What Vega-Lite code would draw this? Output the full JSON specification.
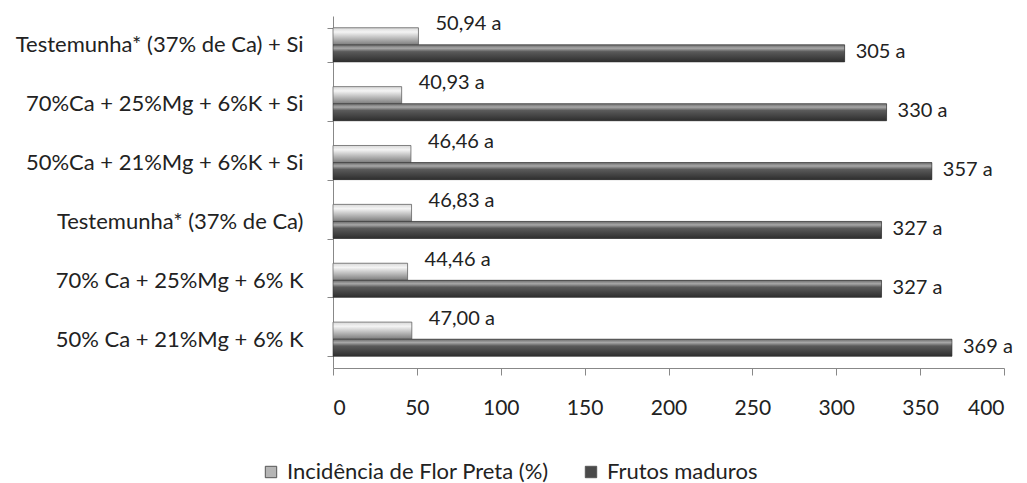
{
  "$schema": "https://vega.github.io/schema/vega-lite/v6.json",
  "autosize": "none",
  "width": 671,
  "height": 352,
  "padding": {"left": 333, "top": 16, "right": 23, "bottom": 115},
  "background": "white",
  "config": {"font": "Lato", "view": {"stroke": null}},
  "data": {
    "values": [
      {"trat": "Testemunha* (37% de Ca) + Si", "serie": "Incidência de Flor Preta (%)", "valor": 50.94, "rotulo": "50,94 a"},
      {"trat": "Testemunha* (37% de Ca) + Si", "serie": "Frutos maduros", "valor": 305, "rotulo": "305 a"},
      {"trat": "70%Ca + 25%Mg + 6%K + Si", "serie": "Incidência de Flor Preta (%)", "valor": 40.93, "rotulo": "40,93 a"},
      {"trat": "70%Ca + 25%Mg + 6%K + Si", "serie": "Frutos maduros", "valor": 330, "rotulo": "330 a"},
      {"trat": "50%Ca + 21%Mg + 6%K + Si", "serie": "Incidência de Flor Preta (%)", "valor": 46.46, "rotulo": "46,46 a"},
      {"trat": "50%Ca + 21%Mg + 6%K + Si", "serie": "Frutos maduros", "valor": 357, "rotulo": "357 a"},
      {"trat": "Testemunha* (37% de Ca)", "serie": "Incidência de Flor Preta (%)", "valor": 46.83, "rotulo": "46,83 a"},
      {"trat": "Testemunha* (37% de Ca)", "serie": "Frutos maduros", "valor": 327, "rotulo": "327 a"},
      {"trat": "70% Ca + 25%Mg + 6% K", "serie": "Incidência de Flor Preta (%)", "valor": 44.46, "rotulo": "44,46 a"},
      {"trat": "70% Ca + 25%Mg + 6% K", "serie": "Frutos maduros", "valor": 327, "rotulo": "327 a"},
      {"trat": "50% Ca + 21%Mg + 6% K", "serie": "Incidência de Flor Preta (%)", "valor": 47.00, "rotulo": "47,00 a"},
      {"trat": "50% Ca + 21%Mg + 6% K", "serie": "Frutos maduros", "valor": 369, "rotulo": "369 a"}
    ]
  },
  "encoding": {
    "y": {
      "field": "trat", "type": "nominal", "sort": null, "title": null,
      "scale": {"paddingInner": 0.42, "paddingOuter": 0.2},
      "axis": {"tickBand": "extent", "labelFontSize": 22, "labelColor": "#222", "labelPadding": 24, "tickSize": 6, "domainColor": "#888", "tickColor": "#888", "labelLimit": 400}
    },
    "yOffset": {"field": "serie", "type": "nominal", "sort": ["Incidência de Flor Preta (%)", "Frutos maduros"], "scale": {"paddingInner": 0}},
    "x": {
      "field": "valor", "type": "quantitative", "title": null,
      "scale": {"domain": [0, 400]},
      "axis": {"values": [0, 50, 100, 150, 200, 250, 300, 350, 400], "grid": false, "labelFontSize": 21, "labelColor": "#222", "labelPadding": 22, "tickSize": 7, "domainColor": "#888", "tickColor": "#888"}
    }
  },
  "layer": [
    {
      "mark": {"type": "bar"},
      "encoding": {
        "color": {
          "field": "serie", "type": "nominal",
          "sort": ["Incidência de Flor Preta (%)", "Frutos maduros"],
          "scale": {"range": ["#b5b5b5", "#4a4a4a"]},
          "legend": {"title": null, "orient": "none", "direction": "horizontal", "legendX": -73, "legendY": 445, "labelFontSize": 22, "labelColor": "#222", "labelLimit": 400, "symbolType": "square", "symbolSize": 130, "symbolStrokeColor": "#555", "symbolStrokeWidth": 1, "columnPadding": 31, "labelOffset": 5}
        }
      }
    },
    {
      "transform": [{"filter": "datum.serie === 'Incidência de Flor Preta (%)'"}],
      "mark": {
        "type": "bar", "stroke": "#6a6a6a", "strokeWidth": 0.8,
        "fill": {"gradient": "linear", "x1": 0, "y1": 0, "x2": 0, "y2": 1, "stops": [
          {"offset": 0, "color": "#d8d8d8"}, {"offset": 0.25, "color": "#f4f4f4"}, {"offset": 0.55, "color": "#c4c4c4"}, {"offset": 1, "color": "#7c7c7c"}
        ]}
      },
      "encoding": {}
    },
    {
      "transform": [{"filter": "datum.serie === 'Frutos maduros'"}],
      "mark": {
        "type": "bar", "stroke": "#333", "strokeWidth": 0.6,
        "fill": {"gradient": "linear", "x1": 0, "y1": 0, "x2": 0, "y2": 1, "stops": [
          {"offset": 0, "color": "#6a6a6a"}, {"offset": 0.2, "color": "#a8a8a8"}, {"offset": 0.4, "color": "#5a5a5a"}, {"offset": 1, "color": "#2e2e2e"}
        ]}
      },
      "encoding": {}
    },
    {
      "transform": [{"filter": "datum.serie === 'Incidência de Flor Preta (%)'"}],
      "mark": {"type": "text", "align": "left", "baseline": "middle", "dx": 17, "dy": -12, "fontSize": 20, "color": "#222"},
      "encoding": {"text": {"field": "rotulo"}}
    },
    {
      "transform": [{"filter": "datum.serie === 'Frutos maduros'"}],
      "mark": {"type": "text", "align": "left", "baseline": "middle", "dx": 11, "dy": -1, "fontSize": 20, "color": "#222"},
      "encoding": {"text": {"field": "rotulo"}}
    }
  ]
}
